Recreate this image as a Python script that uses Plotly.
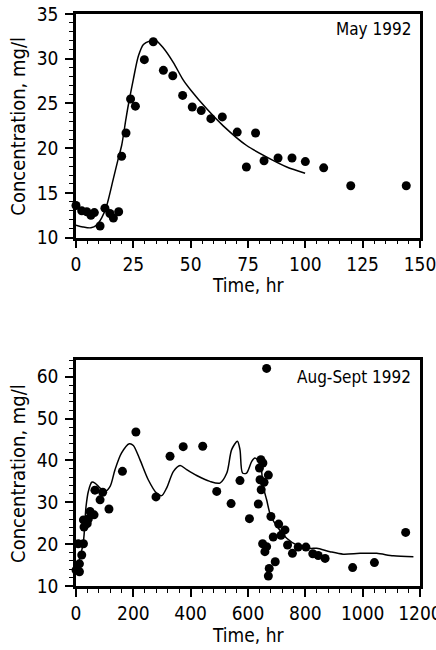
import plotly.graph_objects as go

# ---------------- data: May 1992 ----------------
may_time = [0, 2.5, 4.7, 6.5, 8.0, 10.5, 12.6, 14.8, 16.3, 18.6, 19.9, 21.8, 23.8, 25.9,
            29.8, 33.7, 38.1, 42.2, 46.5, 50.7, 54.6, 58.8, 63.8, 70.3, 74.3, 78.3, 82.0,
            88.1, 94.2, 100.0, 108.0, 119.8, 144.0]
may_conc = [13.6, 13.0, 12.9, 12.5, 12.8, 11.3, 13.3, 12.7, 12.2, 12.9, 19.1, 21.7, 25.5, 24.7,
            29.9, 31.9, 28.7, 28.1, 25.9, 24.6, 24.2, 23.3, 23.5, 21.8, 17.9, 21.7, 18.6,
            18.9, 18.9, 18.5, 17.8, 15.8, 15.8]
may_model_time = [0, 3, 6.5, 9, 11.2, 13.4, 16.3, 18.4, 19.9, 21.8, 22.8, 25.0, 27.2, 29.4,
                  32.3, 34.5, 38.1, 42.4, 46.8, 50, 57, 64.2, 74.4, 83.2, 91.9, 99.9]
may_model_conc = [11.4, 11.2, 11.1, 11.4, 12.2, 13.6, 16.6, 18.8, 20.3, 23.3, 24.8, 27.7, 30.3, 31.6,
                  32.0, 32.1, 31.2, 29.6, 27.6, 26.5, 24.4, 22.5, 20.3, 19.0, 17.9, 17.2]

# ---------------- data: Aug-Sept 1992 ----------------
aug_time = [0, 8, 12, 12, 20, 26, 26, 28, 39, 43, 49, 63, 66, 84, 93, 115, 162, 209, 279, 328,
            374, 442, 491, 541, 572, 605, 636, 640, 642, 645, 646, 652, 656, 665, 671, 680, 707,
            729, 715, 688, 651, 665, 659, 738, 755, 775, 802, 695, 674, 671, 826, 845, 869,
            965, 1041, 1150]
aug_conc = [13.8, 20.1, 13.4, 15.3, 17.4, 20.1, 25.8, 24.1, 24.9, 26.0, 27.8, 27.0, 32.9, 30.6,
            32.4, 28.4, 37.4, 46.8, 31.3, 41.0, 43.3, 43.4, 32.6, 29.7, 35.2, 26.1, 29.6, 38.2,
            35.4, 40.2, 33.0, 39.4, 34.8, 62.0, 36.5, 26.6, 24.8, 23.4, 22.1, 21.7, 20.1, 19.4,
            18.2, 19.8, 17.8, 19.3, 19.3, 15.8, 14.2, 12.4, 17.7, 17.3, 16.6, 14.4, 15.6, 22.8]
aug_model_time = [0, 25, 35, 43, 55, 66, 84, 101, 119, 136, 159, 186, 200, 223, 252, 281, 299,
                  316, 340, 363, 386, 421, 467, 502, 526, 543, 563, 572, 581, 595, 613, 624,
                  642, 653, 665, 680, 706, 735, 770, 816, 840, 886, 932, 991, 1049, 1107, 1177]
aug_model_conc = [13.4, 20.2, 29.0, 32.6, 34.8, 34.6, 33.4, 32.6, 33.8, 37.8, 41.8, 44.0, 43.6,
                  40.2, 35.4, 32.2, 31.6, 33.4, 37.4, 38.8, 37.8, 36.4, 35.0, 34.6, 37.0, 42.6,
                  44.6, 42.6, 37.0, 37.0, 39.8, 40.6, 39.4, 33.8, 30.6, 26.6, 23.8, 21.4, 19.8,
                  19.0, 19.0, 18.2, 17.6, 17.8, 17.8, 17.2, 17.0]

x_title = "Time, hr"
y_title = "Concentration, mg/l"
panel_labels = ["May 1992", "Aug-Sept 1992"]

FONT = "DejaVu Sans Condensed, Liberation Sans Narrow, Arial Narrow, sans-serif"

fig = go.Figure()
fig.add_trace(go.Scatter(x=may_model_time, y=may_model_conc, mode="lines",
                         line=dict(color="black", width=1.5, shape="spline", smoothing=0.8),
                         xaxis="x", yaxis="y", showlegend=False, hoverinfo="skip"))
fig.add_trace(go.Scatter(x=may_time, y=may_conc, mode="markers",
                         marker=dict(color="black", size=9), cliponaxis=False,
                         xaxis="x", yaxis="y", showlegend=False))
fig.add_trace(go.Scatter(x=aug_model_time, y=aug_model_conc, mode="lines",
                         line=dict(color="black", width=1.5, shape="spline", smoothing=0.8),
                         xaxis="x2", yaxis="y2", showlegend=False, hoverinfo="skip"))
fig.add_trace(go.Scatter(x=aug_time, y=aug_conc, mode="markers",
                         marker=dict(color="black", size=9), cliponaxis=False,
                         xaxis="x2", yaxis="y2", showlegend=False))

def axis(rng, dtick, minor_dtick, anchor, domain=None, standoff=0):
    d = dict(range=rng, dtick=dtick, tick0=0, showline=True, linecolor="black", linewidth=2.5,
             mirror=True, ticks="outside", ticklen=8, tickwidth=1.5, tickcolor="black",
             showgrid=False, zeroline=False, anchor=anchor, automargin=False,
             ticklabeloverflow="allow", ticklabelstandoff=standoff,
             tickfont=dict(family=FONT, size=19, color="black"),
             minor=dict(dtick=minor_dtick, tick0=0, ticks="outside", ticklen=4, tickwidth=1.2,
                        tickcolor="black", showgrid=False))
    if domain is not None:
        d["domain"] = domain
    return d

tfont = dict(family=FONT, size=19, color="black")
yfont = dict(family=FONT, size=20, color="black")
afont = dict(family=FONT, size=17, color="black")

annotations = [
    dict(text=panel_labels[0], xref="x domain", yref="y domain", x=0.98, y=0.933,
         xanchor="right", yanchor="middle", showarrow=False, font=afont),
    dict(text=panel_labels[1], xref="x2 domain", yref="y2 domain", x=0.98, y=0.926,
         xanchor="right", yanchor="middle", showarrow=False, font=afont),
    dict(text=x_title, xref="x domain", yref="y domain", x=0.5, y=-0.21,
         xanchor="center", yanchor="middle", showarrow=False, font=tfont),
    dict(text=x_title, xref="x2 domain", yref="y2 domain", x=0.5, y=-0.217,
         xanchor="center", yanchor="middle", showarrow=False, font=tfont),
    dict(text=y_title, xref="x domain", yref="y domain", x=-0.169, y=0.5, textangle=-90,
         xanchor="center", yanchor="middle", showarrow=False, font=yfont),
    dict(text=y_title, xref="x2 domain", yref="y2 domain", x=-0.169, y=0.5, textangle=-90,
         xanchor="center", yanchor="middle", showarrow=False, font=yfont),
]

fig.update_layout(
    width=436, height=650,
    margin=dict(l=76, r=16, t=14, b=64),
    paper_bgcolor="white", plot_bgcolor="white",
    xaxis=axis([0, 150], 25, 5, "y"),
    yaxis=axis([10, 35], 5, 1, "x", domain=[0.609, 1.0], standoff=3),
    xaxis2=axis([0, 1200], 200, 40, "y2"),
    yaxis2=axis([10, 64], 10, 2, "x2", domain=[0.0, 0.395], standoff=3),
    annotations=annotations,
)

# remove the browser's default 8px body margin so the figure sits at the page origin
fig.write_html("out.html", config={"displayModeBar": False},
               post_script="document.body.style.margin='0';document.body.style.overflow='hidden';")
